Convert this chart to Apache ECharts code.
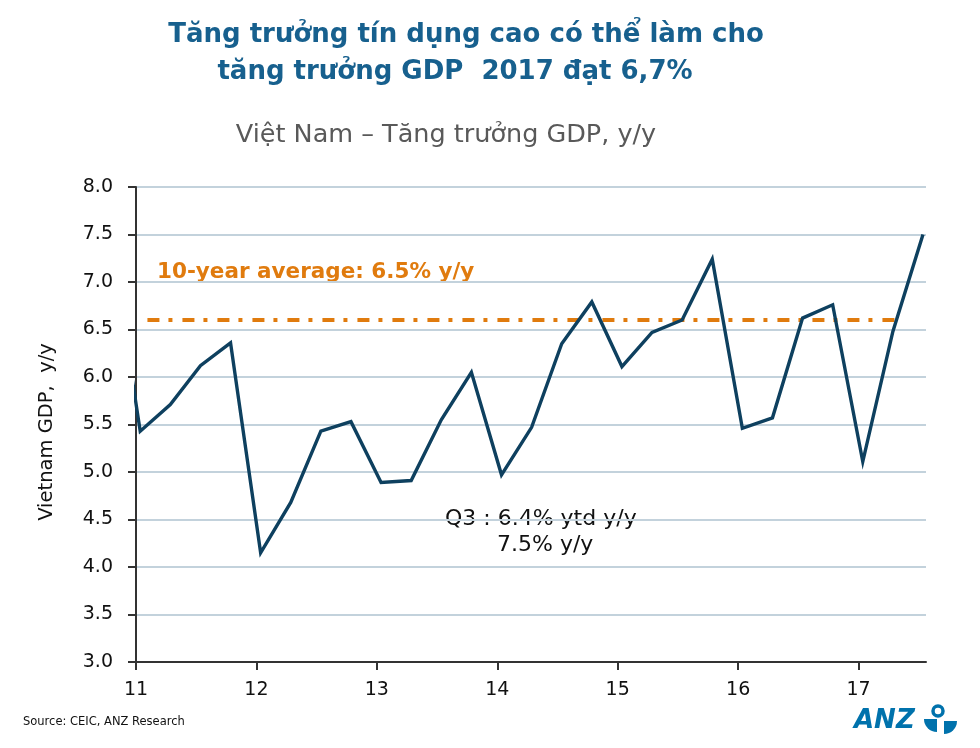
<!DOCTYPE html>
<html>
<head>
<meta charset="utf-8">
<script src="https://cdn.jsdelivr.net/npm/echarts@6/dist/echarts.min.js"></script>
<style>
html,body{margin:0;padding:0;background:#fff;}
#chart{width:980px;height:748px;}
</style>
</head>
<body>
<div id="chart"></div>
<script>
// Quarters (2010Q4 is drawn partly, clipped at the left edge)
var quarters = ['2010Q4',
  '2011Q1','2011Q2','2011Q3','2011Q4',
  '2012Q1','2012Q2','2012Q3','2012Q4',
  '2013Q1','2013Q2','2013Q3','2013Q4',
  '2014Q1','2014Q2','2014Q3','2014Q4',
  '2015Q1','2015Q2','2015Q3','2015Q4',
  '2016Q1','2016Q2','2016Q3','2016Q4',
  '2017Q1','2017Q2','2017Q3'];
var gdpYoY = [7.5,
  5.43, 5.71, 6.12, 6.36,
  4.15, 4.68, 5.43, 5.53,
  4.89, 4.91, 5.55, 6.05,
  4.97, 5.47, 6.35, 6.79,
  6.11, 6.47, 6.60, 7.24,
  5.46, 5.57, 6.62, 6.76,
  5.11, 6.48, 7.50];
var avgLevel = 6.6;
var avgSpan = ['2011Q1', '2017Q2'];
var yearTicks = [11, 12, 13, 14, 15, 16, 17];

function qPos(q) {
  var yr = parseInt(q.slice(2, 4), 10);
  var qi = parseInt(q.slice(5), 10);
  return yr + (qi - 1) / 4 + 0.035;
}
var lineData = quarters.map(function (q, i) { return [qPos(q), gdpYoY[i]]; });
var avgData = [[qPos(avgSpan[0]) + 0.06, avgLevel], [qPos(avgSpan[1]) + 0.04, avgLevel]];

var chart = echarts.init(document.getElementById('chart'), null, {renderer: 'canvas'});
var F = '"DejaVu Sans", Verdana, sans-serif';
var BLUE = '#0072AC';
chart.setOption({
  animation: false,
  backgroundColor: '#ffffff',
  grid: {left: 136, right: 54, top: 187, bottom: 86, containLabel: false},
  xAxis: {
    type: 'value', min: 11, max: 17.56, interval: 1,
    axisLine: {show: true, lineStyle: {color: '#333333', width: 2}},
    axisTick: {show: true, length: 8, lineStyle: {color: '#333333', width: 2}, customValues: yearTicks},
    axisLabel: {show: true, customValues: yearTicks, margin: 19, color: '#111', fontSize: 19, fontFamily: F,
      formatter: function (v) { return String(v); }},
    splitLine: {show: false}
  },
  yAxis: {
    type: 'value', min: 3, max: 8, interval: 0.5,
    axisLine: {show: true, lineStyle: {color: '#333333', width: 2}},
    axisTick: {show: true, length: 8, lineStyle: {color: '#333333', width: 2}},
    axisLabel: {margin: 23, color: '#111', fontSize: 19, fontFamily: F,
      formatter: function (v) { return v.toFixed(1); }},
    splitLine: {show: true, lineStyle: {color: '#C3D2DC', width: 2}}
  },
  series: [
    {
      type: 'line', data: avgData, symbol: 'none', silent: true, z: 2,
      lineStyle: {color: '#E07B0E', width: 4, type: [12, 9, 4, 10], cap: 'butt'}
    },
    {
      type: 'line', data: lineData, symbol: 'none', clip: true, z: 3,
      lineStyle: {color: '#0E405F', width: 3.4, join: 'miter'}
    }
  ],
  graphic: [
    {type: 'text', x: 466, y: 35, style: {text: 'Tăng trưởng tín dụng cao có thể làm cho', fill: '#17608E',
      font: 'bold 26px ' + F, textAlign: 'center', textVerticalAlign: 'middle'}},
    {type: 'text', x: 455, y: 72, style: {text: 'tăng trưởng GDP  2017 đạt 6,7%', fill: '#17608E',
      font: 'bold 26px ' + F, textAlign: 'center', textVerticalAlign: 'middle'}},
    {type: 'text', x: 446, y: 135, style: {text: 'Việt Nam – Tăng trưởng GDP, y/y', fill: '#595959',
      font: '25.5px ' + F, textAlign: 'center', textVerticalAlign: 'middle'}},
    {type: 'text', x: 47, y: 432, rotation: Math.PI / 2, style: {text: 'Vietnam GDP,  y/y', fill: '#111',
      font: '19.5px ' + F, textAlign: 'center', textVerticalAlign: 'middle'}},
    {type: 'text', x: 157, y: 272, style: {text: '10-year average: 6.5% y/y', fill: '#E07B0E',
      font: 'bold 21.5px ' + F, textAlign: 'left', textVerticalAlign: 'middle'}},
    {type: 'text', x: 445, y: 519, style: {text: 'Q3 : 6.4% ytd y/y', fill: '#111',
      font: '22px ' + F, textAlign: 'left', textVerticalAlign: 'middle'}},
    {type: 'text', x: 497, y: 545, style: {text: '7.5% y/y', fill: '#111',
      font: '22px ' + F, textAlign: 'left', textVerticalAlign: 'middle'}},
    {type: 'text', x: 23, y: 722, style: {text: 'Source: CEIC, ANZ Research', fill: '#111',
      font: '11.5px ' + F, textAlign: 'left', textVerticalAlign: 'middle'}},
    {type: 'text', x: 854, y: 721, style: {text: 'ANZ', fill: BLUE,
      font: 'italic bold 26px ' + F, textAlign: 'left', textVerticalAlign: 'middle'}},
    {type: 'circle', shape: {cx: 938, cy: 711, r: 5}, style: {fill: 'none', stroke: BLUE, lineWidth: 3.5}},
    {type: 'sector', shape: {cx: 937, cy: 719, r: 13, r0: 0, startAngle: Math.PI / 2, endAngle: Math.PI}, style: {fill: BLUE}},
    {type: 'sector', shape: {cx: 944, cy: 721, r: 13, r0: 0, startAngle: 0, endAngle: Math.PI / 2}, style: {fill: BLUE}}
  ]
});
</script>
</body>
</html>
